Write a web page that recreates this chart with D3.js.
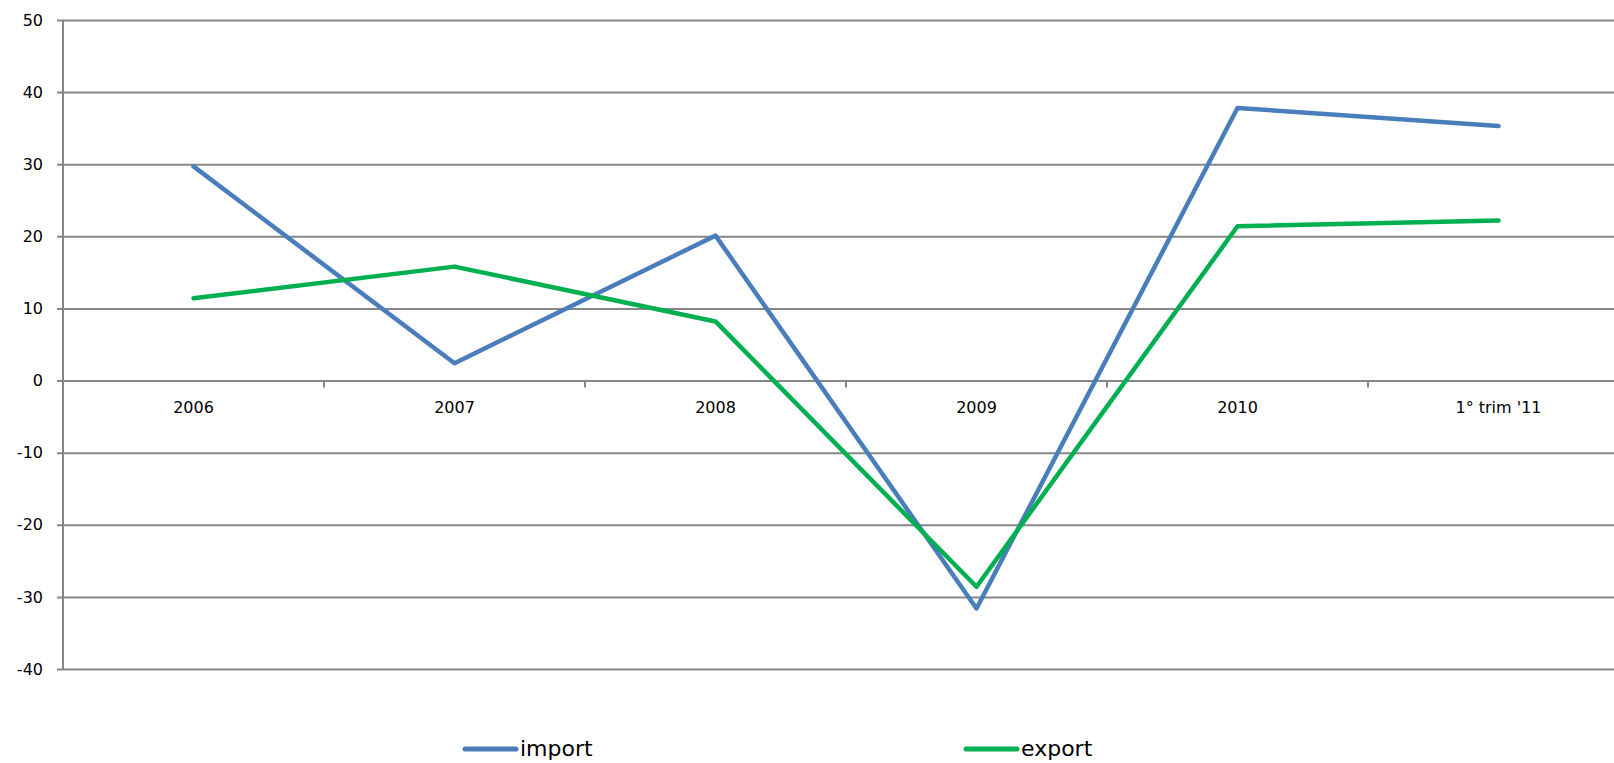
<!DOCTYPE html>
<html>
<head>
<meta charset="utf-8">
<script src="https://cdn.jsdelivr.net/npm/d3@7"></script>
<style>
  body { margin: 0; background: #fff; }
  text { font-family: "DejaVu Sans", sans-serif; fill: #000; }
</style>
</head>
<body>
<div class="chart"></div>
<script>
// data
const categories = ["2006", "2007", "2008", "2009", "2010", "1° trim '11"];
const importValues = [29.7, 2.4, 20.1, -31.6, 37.8, 35.3];
const exportValues = [11.4, 15.8, 8.2, -28.6, 21.4, 22.2];
const yTicks = [50, 40, 30, 20, 10, 0, -10, -20, -30, -40];
const seriesNames = ["import", "export"];
const seriesColors = ["#4a7ebb", "#00b050"];

function init(){
    const w = 1614, h = 763;
    const left = 63, bandW = 261;
    const grey = "#868686";

    const svg = d3.select(".chart").append("svg").attr("width", w).attr("height", h);

    // scales
    const x = d3.scaleBand().domain(categories).range([left, left + bandW * categories.length]);
    const y = d3.scaleLinear().domain([-40, 50]).range([669, 20]);

    // horizontal grid + y labels (plain hyphen for negatives, like the original)
    svg.append("g")
    .attr("transform", "translate(57,0)")
    .call(d3.axisLeft(y).tickValues(yTicks).tickFormat(d => String(d)).tickSize(-(w - 57)).tickPadding(14))
    .call(g => g.select(".domain").remove())
    .call(g => g.selectAll(".tick line").attr("stroke", grey).attr("stroke-width", 2))
    .call(g => g.selectAll(".tick text").style("font-size", "16px").attr("fill", "#000"));

    // vertical axis line
    svg.append("line")
    .attr("x1", left).attr("x2", left)
    .attr("y1", y(50)).attr("y2", y(-40))
    .attr("stroke", grey).attr("stroke-width", 2);

    // category tick marks at band edges
    svg.append("g").selectAll("line")
    .data(categories.slice(1))
    .join("line")
    .attr("x1", d => x(d)).attr("x2", d => x(d))
    .attr("y1", y(0)).attr("y2", y(0) + 7)
    .attr("stroke", grey).attr("stroke-width", 2);

    // category labels
    svg.append("g")
    .attr("transform", `translate(0,${y(0)})`)
    .call(d3.axisBottom(x).tickSize(0).tickPadding(21))
    .call(g => g.select(".domain").remove())
    .call(g => g.selectAll(".tick text").style("font-size", "16px").attr("fill", "#000"));

    // lines
    const line = d3.line()
    .x((d, i) => x(categories[i]) + x.bandwidth() / 2)
    .y(d => y(d));

    [importValues, exportValues].forEach(function(vals, i){
        svg.append("path")
        .datum(vals)
        .attr("d", line)
        .attr("fill", "none")
        .attr("stroke", seriesColors[i])
        .attr("stroke-width", 4.5)
        .attr("stroke-linejoin", "round")
        .attr("stroke-linecap", "round");
    });

    // legend
    const legendX = [465, 966];
    const legend = svg.append("g").selectAll("g")
    .data(seriesNames)
    .join("g")
    .attr("transform", (d, i) => `translate(${legendX[i]},749)`);

    legend.append("line")
    .attr("x1", 0).attr("x2", 51)
    .attr("stroke", (d, i) => seriesColors[i])
    .attr("stroke-width", 5)
    .attr("stroke-linecap", "round");

    legend.append("text")
    .attr("x", 55)
    .attr("y", 7)
    .style("font-size", "22px")
    .text(d => d);
}
window.onload = init;
</script>
</body>
</html>
